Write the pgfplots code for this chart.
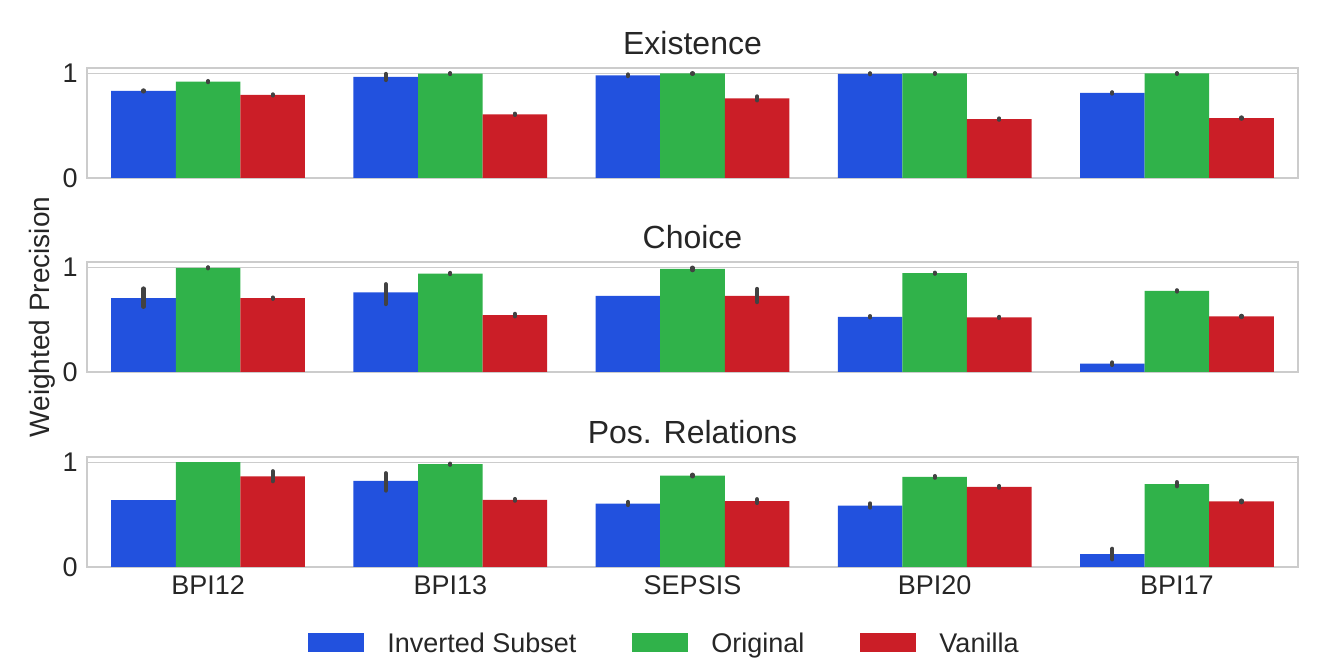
\documentclass[border=0pt]{standalone}
\usepackage{fontspec}
\setmainfont{Liberation Sans}
\usepackage{pgfplots}
\usepackage{pgfplotstable}
\pgfplotsset{compat=1.18}
\definecolor{cblue}{RGB}{34,81,222}
\definecolor{cgreen}{RGB}{48,178,74}
\definecolor{cred}{RGB}{203,30,39}
\definecolor{gridgray}{RGB}{204,204,204}
\definecolor{txtgray}{RGB}{38,38,38}
\definecolor{errgray}{RGB}{66,66,66}

% x inv invp invm org orgp orgm van vanp vanm
\pgfplotstableread{
x inv invp invm org orgp orgm van vanp vanm
0 0.831 0.005 0.005 0.920 0.005 0.005 0.793 0.005 0.005
1 0.965 0.028 0.030 0.997 0.003 0.005 0.608 0.006 0.006
2 0.980 0.008 0.008 0.998 0.002 0.004 0.761 0.018 0.020
3 0.995 0.004 0.005 0.998 0.002 0.004 0.562 0.006 0.006
4 0.812 0.006 0.006 0.998 0.002 0.004 0.572 0.006 0.006
}\existence
\pgfplotstableread{
x inv invp invm org orgp orgm van vanp vanm
0 0.705 0.092 0.083 0.995 0.004 0.005 0.705 0.006 0.006
1 0.759 0.079 0.111 0.940 0.006 0.006 0.543 0.012 0.012
2 0.727 0.000 0.000 0.984 0.012 0.012 0.727 0.066 0.060
3 0.527 0.006 0.006 0.943 0.005 0.005 0.521 0.005 0.005
4 0.079 0.012 0.012 0.774 0.006 0.006 0.530 0.006 0.006
}\choice
\pgfplotstableread{
x inv invp invm org orgp orgm van vanp vanm
0 0.638 0.000 0.000 1.000 0.000 0.000 0.864 0.050 0.045
1 0.822 0.073 0.092 0.981 0.005 0.005 0.641 0.008 0.008
2 0.606 0.015 0.015 0.873 0.008 0.008 0.629 0.018 0.018
3 0.587 0.020 0.020 0.860 0.008 0.008 0.765 0.008 0.008
4 0.124 0.050 0.051 0.790 0.020 0.020 0.626 0.008 0.008
}\posrel

\pgfplotsset{
  panel/.style={
    anchor=south west, scale only axis,
    width=605.5pt, height=55pt,
    xmin=-0.5, xmax=4.5, ymin=0, ymax=1.05,
    ytick={0,1}, yticklabels={0,1},
    ymajorgrids, grid style={line width=0.7pt, gridgray},
    axis line style={line width=1pt, gridgray},
    major tick length=0pt,
    font=\fontsize{13.5}{16}\selectfont,
    every tick label/.append style={text=txtgray},
    yticklabel style={anchor=east, inner sep=0pt, xshift=-4.5pt},
    title style={at={(0.5,1)}, anchor=base, yshift=0.85pt, text=txtgray, inner sep=0pt,
      font=\fontsize{16}{19}\selectfont},
    clip=false,
  },
  barplot/.style={ybar, bar width=0.26667, bar shift=0pt, draw=none, fill=#1},
  errplot/.style n args={2}{forget plot, mark=none, draw=none,
    restrict expr to domain={\thisrow{#1}+\thisrow{#2}}{0.0001:10},
    error bars/.cd, y dir=both, y explicit, error mark=none,
    error bar style={draw=errgray, line width=2.1pt, line cap=round, solid}},
}

\newcommand{\panelplots}[1]{%
\addplot[barplot=cblue] table[x expr=\thisrow{x}-0.26667, y=inv] {#1};
\addplot[barplot=cgreen] table[x=x, y=org] {#1};
\addplot[barplot=cred] table[x expr=\thisrow{x}+0.26667, y=van] {#1};
\addplot[errplot={invp}{invm}] table[x expr=\thisrow{x}-0.26667, y=inv, y error plus=invp, y error minus=invm] {#1};
\addplot[errplot={orgp}{orgm}] table[x=x, y=org, y error plus=orgp, y error minus=orgm] {#1};
\addplot[errplot={vanp}{vanm}] table[x expr=\thisrow{x}+0.26667, y=van, y error plus=vanp, y error minus=vanm] {#1};
}

\begin{document}
\begin{tikzpicture}
\useasboundingbox (0,0) rectangle (664.5pt,332pt);
\node[rotate=90, font=\fontsize{14}{17}\selectfont, text=txtgray] at (21pt,173.5pt) {Weighted Precision};

\begin{axis}[panel, at={(43.5pt,243pt)}, title={Existence}, xtick=\empty]
\panelplots{\existence}
\end{axis}

\begin{axis}[panel, at={(43.5pt,146pt)}, title={Choice}, xtick=\empty]
\panelplots{\choice}
\end{axis}

\begin{axis}[panel, at={(43.5pt,48.5pt)}, title={Pos. Relations},
  xtick={0,1,2,3,4}, xticklabels={BPI12,BPI13,SEPSIS,BPI20,BPI17},
  xticklabel style={anchor=base, yshift=-14pt, inner sep=0pt},
  legend columns=3,
  legend style={at={(0.476,-0.70)}, anchor=center, draw=none, fill=none,
    font=\fontsize{13.5}{16}\selectfont, text=txtgray,
    nodes={inner sep=0pt, anchor=base west},
    /tikz/every odd column/.append style={column sep=11.5pt},
    /tikz/every even column/.append style={column sep=28pt}},
  legend image code/.code={\fill[#1] (0pt,0pt) rectangle (28pt,9.6pt);},
]
\panelplots{\posrel}
\legend{Inverted Subset, Original, Vanilla}
\end{axis}
\end{tikzpicture}
\end{document}
